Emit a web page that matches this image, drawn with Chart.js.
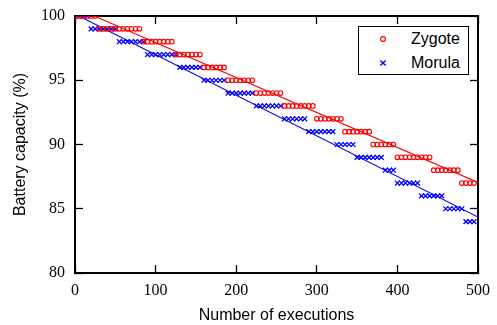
<!DOCTYPE html>
<html>
<head>
<meta charset="utf-8">
<script src="https://cdn.jsdelivr.net/npm/chart.js@4.4.1/dist/chart.umd.min.js"></script>
<style>
  html, body { margin: 0; padding: 0; background: #fff; }
  #wrap { position: relative; width: 497px; height: 325px; }
  #c { position: absolute; left: 0; top: 0; }
  #legend { position: absolute; left: 358px; top: 26px; width: 109px; height: 47px;
    border: 1.5px solid #000; background: #fff; font-family: "Liberation Sans", Arial, sans-serif; font-size: 16px; color: #000; }
  .row { position: absolute; left: 0; height: 20px; line-height: 20px; }
  .row svg { position: absolute; left: 19px; top: 5px; }
  .row span { position: absolute; left: 52px; top: 0; white-space: nowrap; }
</style>
</head>
<body>
<div id="wrap">
<canvas id="c" width="497" height="325"></canvas>
<div id="legend">
  <div class="row" style="top:2px;"><svg width="10" height="10"><circle cx="5" cy="5" r="2.4" fill="none" stroke="#ff0000" stroke-width="1.2"/></svg><span>Zygote</span></div>
  <div class="row" style="top:26px;"><svg width="10" height="10"><path d="M2.4 2.4 L7.6 7.6 M7.6 2.4 L2.4 7.6" stroke="#0000ff" stroke-width="1.4"/></svg><span>Morula</span></div>
</div>
</div>
<script>
const executions = [0,5,10,15,20,25,30,35,40,45,50,55,60,65,70,75,80,85,90,95,
  100,105,110,115,120,125,130,135,140,145,150,155,160,165,170,175,180,185,190,195,
  200,205,210,215,220,225,230,235,240,245,250,255,260,265,270,275,280,285,290,295,
  300,305,310,315,320,325,330,335,340,345,350,355,360,365,370,375,380,385,390,395,
  400,405,410,415,420,425,430,435,440,445,450,455,460,465,470,475,480,485,490,495];

const zygote = [100,100,100,100,100,100,
  99,99,99,99,99,99,99,99,99,99,99,
  98,98,98,98,98,98,98,98,
  97,97,97,97,97,97,97,
  96,96,96,96,96,96,
  95,95,95,95,95,95,95,
  94,94,94,94,94,94,94,
  93,93,93,93,93,93,93,93,
  92,92,92,92,92,92,92,
  91,91,91,91,91,91,91,
  90,90,90,90,90,90,
  89,89,89,89,89,89,89,89,89,
  88,88,88,88,88,88,88,
  87,87,87,87];

const morula = [100,100,100,100,
  99,99,99,99,99,99,99,
  98,98,98,98,98,98,98,
  97,97,97,97,97,97,97,97,
  96,96,96,96,96,96,
  95,95,95,95,95,95,
  94,94,94,94,94,94,94,
  93,93,93,93,93,93,93,
  92,92,92,92,92,92,
  91,91,91,91,91,91,91,
  90,90,90,90,90,
  89,89,89,89,89,89,89,
  88,88,88,
  87,87,87,87,87,87,
  86,86,86,86,86,86,
  85,85,85,85,85,
  84,84,84];

const fitX = [0, 500];
const fitZygote = [100.65, 87.05];
const fitMorula = [100.15, 84.35];

const xTicks = [0, 100, 200, 300, 400, 500];
const yTicks = [80, 85, 90, 95, 100];

const toPts = (xs, ys) => xs.map((x, i) => ({x: x, y: ys[i]}));

const tickFont = {family: '"Liberation Serif", "Times New Roman", serif', size: 16};
const titleFont = {family: '"Liberation Sans", Arial, sans-serif', size: 16};

function baseGrid() {
  return {drawOnChartArea: false, drawTicks: true, tickLength: -8, tickWidth: 1.3, tickColor: '#000', color: '#000'};
}
const border = {display: true, color: '#000', width: 2};
function fixSize(prop, val) {
  return s => {
    s[prop] = val;
    s.paddingLeft = 0; s.paddingRight = 0; s.paddingTop = 0; s.paddingBottom = 0;
  };
}

new Chart(document.getElementById('c'), {
  type: 'scatter',
  data: {
    datasets: [
      {label: 'Zygote', data: toPts(executions, zygote), pointStyle: 'circle', pointRadius: 2.3,
       borderColor: '#ff0000', backgroundColor: 'rgba(0,0,0,0)', borderWidth: 1.1, showLine: false},
      {label: 'Morula', data: toPts(executions, morula), pointStyle: 'crossRot', pointRadius: 3.4,
       borderColor: '#0000ff', backgroundColor: '#0000ff', borderWidth: 1.3, showLine: false},
      {label: 'fitZ', data: toPts(fitX, fitZygote), showLine: true, pointRadius: 0,
       borderColor: '#ff0000', borderWidth: 1.1, fill: false},
      {label: 'fitM', data: toPts(fitX, fitMorula), showLine: true, pointRadius: 0,
       borderColor: '#0000ff', borderWidth: 1.1, fill: false}
    ]
  },
  options: {
    responsive: false,
    animation: false,
    devicePixelRatio: 1,
    layout: {padding: 0},
    plugins: {legend: {display: false}, tooltip: {enabled: false}},
    scales: {
      x: {
        type: 'linear', position: 'bottom', min: 0, max: 500,
        afterBuildTicks: s => { s.ticks = xTicks.map(v => ({value: v})); },
        afterFit: fixSize('height', 52),
        grid: baseGrid(), border: border,
        ticks: {font: tickFont, color: '#000', padding: 16, maxRotation: 0},
        title: {display: true, text: 'Number of executions', font: titleFont, color: '#000', padding: {top: 0, bottom: 0}}
      },
      x2: {
        type: 'linear', position: 'top', min: 0, max: 500,
        afterBuildTicks: s => { s.ticks = xTicks.map(v => ({value: v})); },
        afterFit: fixSize('height', 16),
        grid: baseGrid(), border: border,
        ticks: {display: false}
      },
      y: {
        type: 'linear', position: 'left', min: 80, max: 100,
        afterBuildTicks: s => { s.ticks = yTicks.map(v => ({value: v})); },
        afterFit: fixSize('width', 75),
        grid: baseGrid(), border: border,
        ticks: {font: tickFont, color: '#000', padding: 18},
        title: {display: true, text: 'Battery capacity (%)', font: titleFont, color: '#000', padding: {top: 11, bottom: 0}}
      },
      y2: {
        type: 'linear', position: 'right', min: 80, max: 100,
        afterBuildTicks: s => { s.ticks = yTicks.map(v => ({value: v})); },
        afterFit: fixSize('width', 19),
        grid: baseGrid(), border: border,
        ticks: {display: false}
      }
    }
  }
});
</script>
</body>
</html>
